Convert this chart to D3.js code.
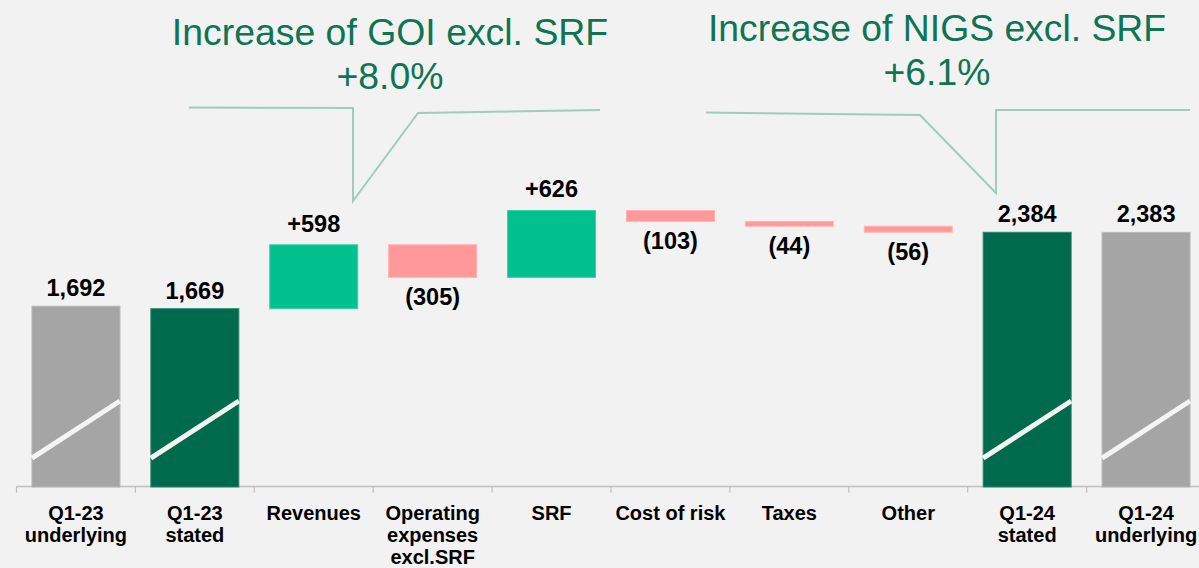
<!DOCTYPE html>
<html>
<head>
<meta charset="utf-8">
<script src="https://cdn.jsdelivr.net/npm/d3@7"></script>
<style>
  html, body { margin: 0; padding: 0; background: #F2F2F2; }
  svg { display: block; }
  text { font-family: "Liberation Sans", Arial, Helvetica, sans-serif; }
</style>
</head>
<body>
<svg id="chart" width="1199" height="568"></svg>
<script>
// ---- data ----
const categories = ["Q1-23 underlying", "Q1-23 stated", "Revenues", "Operating expenses excl.SRF", "SRF", "Cost of risk", "Taxes", "Other", "Q1-24 stated", "Q1-24 underlying"];
const categoryLines = [["Q1-23", "underlying"], ["Q1-23", "stated"], ["Revenues"], ["Operating", "expenses", "excl.SRF"], ["SRF"], ["Cost of risk"], ["Taxes"], ["Other"], ["Q1-24", "stated"], ["Q1-24", "underlying"]];
const kinds = ["total-u", "total-s", "delta", "delta", "delta", "delta", "delta", "delta", "total-s", "total-u"];
const values = [1692, 1669, 598, -305, 626, -103, -44, -56, 2384, 2383];
const valueLabels = ["1,692", "1,669", "+598", "(305)", "+626", "(103)", "(44)", "(56)", "2,384", "2,383"];
const annotationTitles = [["Increase of GOI excl. SRF", "+8.0%"], ["Increase of NIGS excl. SRF", "+6.1%"]];

// ---- build waterfall ----
let running = 0;
const rows = categories.map((c, i) => {
  const v = values[i];
  let y0, y1;
  if (kinds[i] === "delta") {
    y0 = running; y1 = running + v; running = y1;
  } else {
    y0 = 0; y1 = v;
    if (i === 1) running = v;
  }
  return { cat: c, lines: categoryLines[i], kind: kinds[i], v, y0, y1, label: valueLabels[i] };
});

const svg = d3.select("#chart");
const W = 1199, H = 568;

const x = d3.scaleBand().domain(categories).range([16.5, 1205.5]).paddingInner(0.26).paddingOuter(0.13);
const y = d3.scaleLinear().domain([0, 4558]).range([487, 0]);

const colors = { "total-u": "#A5A5A5", "total-s": "#006A4D", up: "#00C18D", down: "#FF9999" };
const strokes = { "total-u": "#B8B8B8", "total-s": "#2E8468", up: "#3CD1A6", down: "#FFB3B3" };
function colorKey(d) { return d.kind === "delta" ? (d.v >= 0 ? "up" : "down") : d.kind; }

// axis
const axisG = svg.append("g").attr("transform", `translate(0, ${y(0) - 0.5})`);
const step = x.step();
const ticks = d3.range(categories.length + 1).map(i => x.range()[0] + i * step);
axisG.append("line").attr("x1", x.range()[0]).attr("x2", W).attr("y1", 0).attr("y2", 0)
  .attr("stroke", "#BFBFBF").attr("stroke-width", 1.5);
axisG.selectAll("line.tick").data(ticks).enter().append("line").attr("class", "tick")
  .attr("x1", d => d).attr("x2", d => d).attr("y1", 0).attr("y2", 6)
  .attr("stroke", "#BFBFBF").attr("stroke-width", 1.2);

// bars
const bars = svg.append("g");
bars.selectAll("rect").data(rows).enter().append("rect")
  .attr("x", d => x(d.cat))
  .attr("width", x.bandwidth())
  .attr("y", d => y(Math.max(d.y0, d.y1)))
  .attr("height", d => Math.abs(y(d.y0) - y(d.y1)))
  .attr("fill", d => colors[colorKey(d)])
  .attr("stroke", d => strokes[colorKey(d)])
  .attr("stroke-width", 1);

// break marks on total bars
const breakLow = 270, breakHigh = 805;
bars.selectAll("line.brk").data(rows.filter(d => d.kind !== "delta")).enter().append("line")
  .attr("class", "brk")
  .attr("x1", d => x(d.cat)).attr("x2", d => x(d.cat) + x.bandwidth())
  .attr("y1", y(breakLow)).attr("y2", y(breakHigh))
  .attr("stroke", "#F4F4F4").attr("stroke-width", 5);

// value labels
svg.append("g").selectAll("text").data(rows).enter().append("text")
  .attr("x", d => x(d.cat) + x.bandwidth() / 2)
  .attr("y", d => d.v >= 0 ? y(Math.max(d.y0, d.y1)) - (d.kind === "delta" ? 13 : 10) : y(Math.min(d.y0, d.y1)) + 28)
  .attr("text-anchor", "middle")
  .attr("font-size", 23.5).attr("font-weight", "bold").attr("fill", "#000")
  .text(d => d.label);

// category labels
const catG = svg.append("g");
rows.forEach(d => {
  const t = catG.append("text")
    .attr("x", x(d.cat) + x.bandwidth() / 2)
    .attr("y", 520)
    .attr("text-anchor", "middle")
    .attr("font-size", 20).attr("font-weight", "bold").attr("fill", "#000");
  d.lines.forEach((ln, j) => {
    t.append("tspan").attr("x", x(d.cat) + x.bandwidth() / 2).attr("dy", j === 0 ? 0 : 22).text(ln);
  });
});

// annotation brackets
const bracketColor = "#9DCDBD";
const bracket1 = [[189, 107.5], [353, 108], [353, 201], [418, 113], [600, 110]];
const bracket2 = [[706, 112.5], [920, 115], [996, 193], [996, 110], [1190, 110]];
const line = d3.line();
[bracket1, bracket2].forEach(b => {
  svg.append("path").attr("d", line(b)).attr("fill", "none")
    .attr("stroke", bracketColor).attr("stroke-width", 2);
});

// annotation titles
const titlePos = [{ cx: 390, y1: 45, y2: 89, fs: 37.4 }, { cx: 937, y1: 41, y2: 85, fs: 37.3 }];
annotationTitles.forEach((lines, i) => {
  const p = titlePos[i];
  svg.append("text").attr("x", p.cx).attr("y", p.y1).attr("text-anchor", "middle")
    .attr("font-size", p.fs).attr("fill", "#0E7452").text(lines[0]);
  svg.append("text").attr("x", p.cx).attr("y", p.y2).attr("text-anchor", "middle")
    .attr("font-size", p.fs).attr("fill", "#0E7452").text(lines[1]);
});
</script>
</body>
</html>
